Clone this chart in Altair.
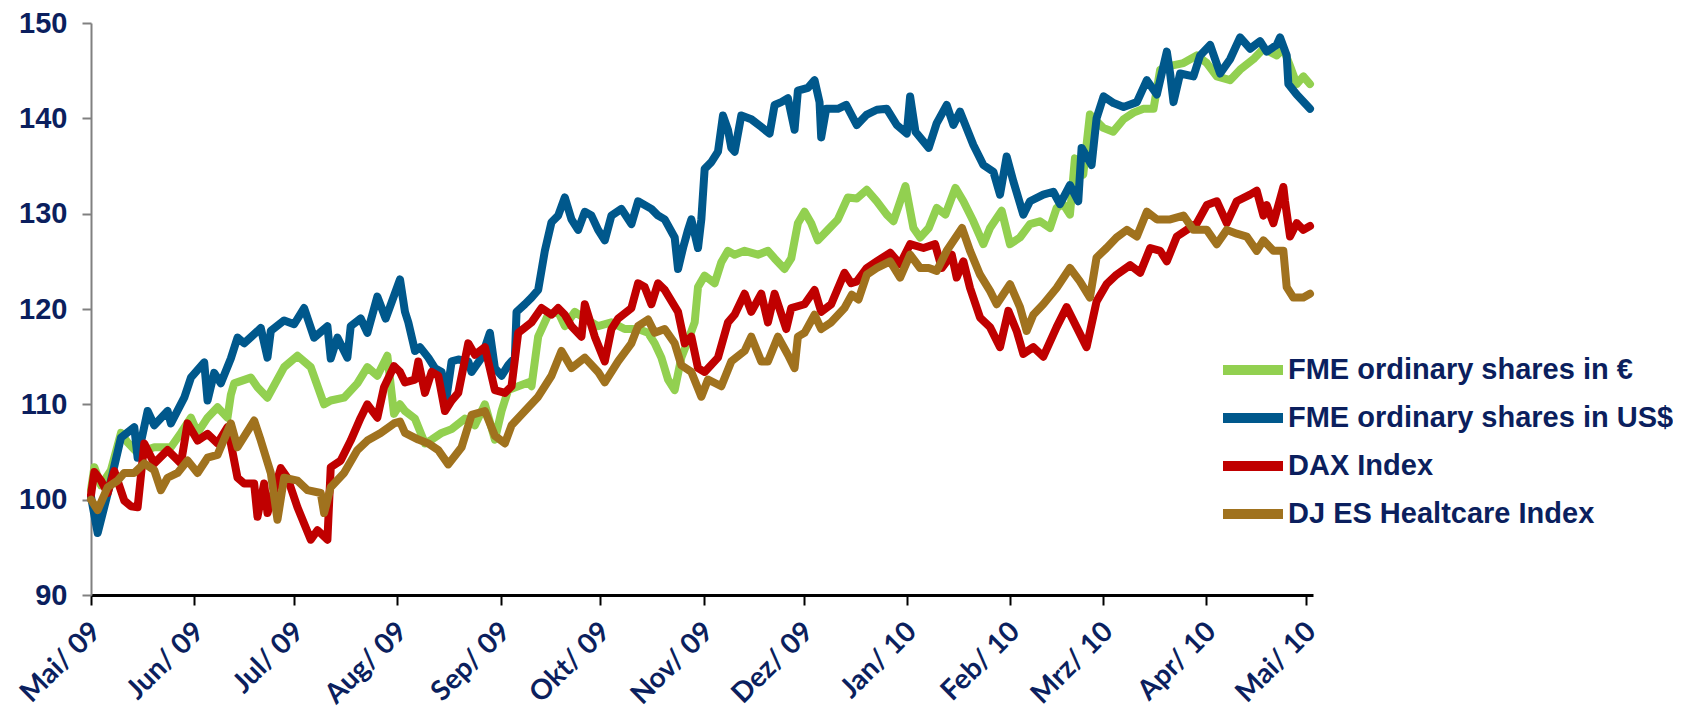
import altair as alt
import pandas as pd

month_names = ["Jan", "Feb", "Mrz", "Apr", "Mai", "Jun", "Jul", "Aug", "Sep", "Okt", "Nov", "Dez"]
series_names = ["FME ordinary shares in €", "FME ordinary shares in US$", "DAX Index", "DJ ES Healtcare Index"]
series_colors = ["#92d050", "#00588c", "#c00000", "#a0721e"]
tick_months = [(2009, 5), (2009, 6), (2009, 7), (2009, 8), (2009, 9), (2009, 10), (2009, 11),
               (2009, 12), (2010, 1), (2010, 2), (2010, 3), (2010, 4), (2010, 5)]
y_ticks = [90, 100, 110, 120, 130, 140, 150]

# (days since 1 May 2009, index value)
eur_points = [(0,101),(1,103.4),(3,101.5),(6,103.1),(9,107),(11,106),(14,104.9),(19,105.5),(24,105.5),(27,107),
(30,108.6),(32,107),(35,108.6),(38,109.7),(41,108.6),(42,111),(43,112.2),(48,112.8),(50,111.8),(53,110.7),
(58,113.9),(62,115.1),(66,113.9),(70,110),(72,110.4),(76,110.7),(80,112.2),(83,113.9),(86,113),(89,115.1),
(91,109),(92.8,110),(94.3,109.3),(97.3,108.5),(100.3,105.9),(102.3,106.3),(105.3,107),(108.3,107.4),(112.3,108.5),
(115.3,107.8),(118.3,110),(121.3,106.3),(123.3,109.3),(125.3,111.5),(128.3,111.9),(131.3,112.3),(132.3,111.9),
(134.3,117.1),(137.3,119.4),(140.3,119.7),(142.3,118.2),(145.3,119.7),(148.3,119),(152.3,118.2),(156.3,118.6),
(160.3,117.9),(164.3,117.9),(167.3,117.5),(169.3,116.4),(171.3,114.9),(173.3,112.6),(175.3,111.5),(177.3,114.9),
(179.3,116.7),(181.3,118.6),(182.3,122.3),(184.3,123.5),(187.3,122.7),(189.3,124.9),(191.3,126.1),(193.3,125.7),
(196.3,126.1),(200.3,125.7),(203.3,126.1),(205.3,125.3),(208.3,124.2),(210.3,125.3),(212.3,129),(214.3,130.2),
(216.3,129),(218.3,127.2),(221.3,128.3),(224.3,129.4),(227.3,131.7),(230,131.6),(233,132.5),(236,131.3),
(239,129.9),(241,129.2),(244.6,132.9),(247,128.5),(249,127.5),(251.6,128.5),(254,130.6),(256.6,129.9),(259.6,132.7),
(262,131.3),(265,129.2),(268,126.8),(270,128.5),(273.5,130.3),(276,126.8),(279,127.5),(282,128.9),(285,129.2),
(288,128.5),(290,130.6),(292,131),(294,129.9),(295.5,135.8),(298,134.1),(300,140.4),(304,139),(307,138.6),
(310.1,139.9),(313.1,140.6),(316.1,141),(319.1,141),(321.1,145.1),(324.1,145.5),(328.1,145.8),(332.1,146.6),
(335.1,145.8),(338.1,144.4),(342.1,144),(345.1,145.1),(349.1,146.2),(352.1,147.3),(356.1,146.6),(358.1,147.3),
(360.1,145.5),(362.1,143.6),(364.1,144.4),(366.1,143.6)]

usd_points = [(0,100.3),(2,96.5),(6,102),(9,106.5),(13,107.6),(14,104.4),(17,109.3),(19,107.8),(23,109.3),(24,108),
(28,110.7),(30,112.8),(34,114.4),(35,110.4),(37,113.3),(39,112.2),(42,114.8),(44,117),(46,116.4),(51,118),
(53,114.9),(54,117.7),(58,118.8),(61,118.4),(64,120.1),(67,117),(71,118.2),(72,114.8),(74,117),(77,114.9),
(78,118.2),(81,119),(83,117.5),(86,121.3),(88.5,119),(92.8,123.1),(94.3,119.7),(95.3,118.6),(97.3,115.6),
(98.8,116),(101.3,114.9),(103.3,113.8),(105.3,113.4),(106.8,110.8),(108.3,114.5),(110.3,114.7),(113.3,114.5),
(114.3,113.4),(117.3,114.9),(119.8,117.5),(121.3,113.8),(123.3,113),(125.3,114.1),(127.3,114.9),(127.8,119.7),
(130.3,120.5),(132.3,121.2),(134.3,122),(136.3,126.1),(138.3,129.1),(140.3,129.8),(142.3,131.7),(144.3,129.4),
(146.3,128.3),(148.3,130.2),(150.3,129.8),(152.3,128.3),(154.3,127.2),(156.3,129.8),(159.3,130.5),(162.3,128.9),
(164.3,131.3),(168.3,130.5),(170.3,129.8),(172.3,129.4),(175.3,127.5),(176.3,124.2),(177.8,126.4),(179.3,128.3),
(180.3,129.4),(182.3,126.4),(183.3,129.4),(184.3,134.7),(186.3,135.4),(188.3,136.5),(189.8,140.3),(191.3,138.8),
(192.3,136.9),(193.3,136.5),(195.3,140.3),(198.3,139.9),(201.3,139.1),(203.8,138.4),(205.3,141.4),(207.3,141.7),
(209.3,142.1),(211.3,138.8),(212.3,142.9),(215.3,143.2),(217.3,144),(218.8,141.7),(219.3,138),(220.8,141),
(224.3,141),(226.8,141.4),(230,139.3),(233,140.4),(236,140.9),(239,141),(242,139.3),(245,138.4),(246,142.3),
(247.6,138.6),(251.6,136.9),(254,139.5),(257,141.4),(259,139.3),(261,140.7),(265,137.2),(268,135.1),(271,134.4),
(273,132),(275,136),(277,133.4),(280,129.9),(282,131.3),(286,132),(289,132.3),(291,131),(294,133),(296.5,131.3),
(297.5,136.9),(300.5,135.1),(302,140),(304.1,142.3),(307.1,141.6),(310.1,141.2),(314.1,141.7),(317.1,144),
(320.1,142.5),(323.1,147),(324.1,144.7),(325.1,141.7),(327.1,144.7),(331.1,144.4),(333.1,146.6),(336.1,147.7),
(339.1,144.7),(342.1,146.2),(345.1,148.5),(348.1,147.3),(351.1,148.1),(353.1,147),(356.1,147.7),(357.1,148.5),
(359.1,146.6),(359.6,143.6),(362.1,142.5),(366.1,141)]

dax_points = [(0,100.5),(1,102.9),(3,102),(5,100.7),(7,103),(10,99.9),(12,99.3),(14,99.2),(16,105.9),(19,103.8),
(23,105.2),(27,103.8),(29,108),(32,106.2),(35,106.9),(38,105.9),(41,107.6),(42,105.9),(44,102.3),(46,101.7),
(49,101.7),(50,98.2),(52,101.7),(53,98.6),(57,103.3),(59,102.3),(62,99.2),(66,95.8),(68,96.8),(71,95.8),
(72,103.4),(75,104.1),(78,106.2),(81,108.6),(83,110),(86,108.6),(88,111.8),(91,114),(92.8,113.4),(94.3,112.3),
(97.3,112.6),(98.3,114.5),(100.3,111.2),(102.3,113.4),(104.3,113),(106.3,109.3),(108.3,110.4),(110.3,111.2),
(113.3,116.4),(115.3,115.2),(118.3,116),(121.3,111.5),(124.3,111.2),(126.3,111.9),(128.3,117.5),(132.3,118.6),
(135.3,120.1),(138.3,119.4),(140.3,120.1),(142.3,119.4),(144.3,118.2),(147.3,117.1),(148.3,120.5),(151.3,117.1),
(154.3,114.5),(156.3,117.9),(158.3,119),(162.3,120.1),(164.3,122.7),(166.3,122.3),(168.3,120.5),(170.3,122.7),
(172.3,122),(176.3,119.7),(178.3,116.4),(180.3,117.1),(182.3,113.8),(184.3,113.4),(188.3,114.9),(191.3,118.6),
(193.3,119.4),(196.3,121.6),(198.3,119.7),(201.3,121.6),(203.3,118.6),(205.3,121.6),(208.8,117.9),(210.3,120.1),
(214.3,120.5),(217.3,122),(219.3,119.7),(222.3,120.5),(226.3,123.8),(228.3,122.7),(230,122.9),(233,124.3),
(236,125),(240,125.9),(243,124.7),(246,126.8),(250,126.4),(253.5,126.8),(255.5,124.3),(258.5,125.7),(260,123.3),
(262,125),(264,122.2),(267,119.1),(270,118.1),(273,116),(275.5,119.8),(278,117.7),(280,115.3),(283,116),
(286,115),(290,118.1),(293,120.2),(296,118.1),(299,116),(302,120.8),(305,122.6),(308,123.6),(312.1,124.6),
(315.1,123.8),(318.1,126.4),(321.1,126.1),(323.1,125),(326.1,127.6),(329.1,128.3),(332.1,129),(335.1,130.9),
(338.1,131.3),(341.1,129),(344.1,131.3),(348.1,132),(350.1,132.4),(352.1,129.8),(353.1,130.9),(355.1,129),
(358.1,132.8),(358.6,131.3),(360.1,127.6),(362.1,129),(364.1,128.3),(366.1,128.7)]

dj_points = [(0,100),(2,98.9),(5,101.3),(8,102),(10,102.8),(13,102.8),(16,103.8),(19,103.1),(21,101),(23,102.3),
(26,102.8),(29,104.1),(32,102.8),(35,104.4),(38,104.7),(42,108),(44,105.5),(49,108.3),(51,106.2),(54,102.8),
(56,97.9),(58,102.3),(62,102),(65,101),(69,100.7),(70,98.6),(72,101.3),(76,102.8),(80,105.2),(83,106.2),
(87,107),(91,108),(92.8,108.2),(94.3,107),(98.3,106.3),(101.3,105.9),(104.3,105.2),(107.3,103.7),(111.3,105.5),
(114.3,108.9),(118.3,109.3),(121.3,106.7),(124.3,105.9),(126.3,107.8),(130.3,109.3),(134.3,110.8),(138.3,113),
(141.3,115.6),(144.3,113.8),(148.3,114.9),(152.3,113.4),(154.3,112.3),(158.3,114.5),(162.3,116.4),(164.3,118.2),
(167.3,118.9),(169.3,117.5),(172.3,117.9),(175.3,116.4),(177.3,114.1),(180.3,113.4),(183.3,110.8),(185.3,112.6),
(189.3,111.9),(192.3,114.5),(196.3,115.6),(198.3,117.1),(201.3,114.5),(203.3,114.5),(206.3,117.1),(209.3,115.2),
(211.3,113.8),(212.3,117.1),(214.3,117.5),(217.3,119.4),(219.3,117.9),(222.3,118.6),(226.3,120.1),(228.5,121.5),
(230.5,121),(233,123.6),(236,124.3),(240,125),(243,123.3),(246,125.7),(249,124.3),(251.6,124.3),(254,124),
(257,126.1),(261.6,128.5),(264,126.1),(267,123.6),(270,121.9),(272,120.5),(276,122.6),(279,120.2),(281,117.7),
(283,119.4),(286,120.5),(290,122.2),(294,124.3),(297,122.9),(300,121.2),(302,125.4),(305,126.4),(308,127.5),
(311.1,128.3),(314.1,127.6),(317.1,130.2),(320.1,129.4),(324.1,129.4),(328.1,129.8),(331.1,128.3),(335.1,128.3),
(338.1,126.8),(341.1,128.3),(344.1,127.9),(347.1,127.6),(350.1,126.1),(352.1,127.2),(355.1,126.1),(358.1,126.1),
(359.1,122.3),(361.1,121.2),(364.1,121.2),(366.1,121.6)]

all_points = [eur_points, usd_points, dax_points, dj_points]
frames = []
for name, pts in zip(series_names, all_points):
    f = pd.DataFrame(pts, columns=["day", "value"])
    f["series"] = name
    frames.append(f)
df = pd.concat(frames, ignore_index=True)
df["date"] = (pd.Timestamp("2009-05-01") + pd.to_timedelta(df["day"], unit="D")).dt.strftime("%Y-%m-%dT%H:%M:%S")

navy = "#0b1f5e"
tick_values = [alt.DateTime(year=y, month=m, date=1) for (y, m) in tick_months]
month_js = "[" + ",".join("'" + m + "'" for m in month_names) + "]"
label_expr = month_js + "[month(datum.value)] + '/ ' + timeFormat(datum.value, '%y')"

chart = alt.Chart(df).mark_line(strokeWidth=8, strokeJoin="round", strokeCap="round").encode(
    x=alt.X("date:T",
            scale=alt.Scale(domain=[alt.DateTime(year=2009, month=5, date=1),
                                    alt.DateTime(year=2010, month=5, date=3)]),
            axis=alt.Axis(values=tick_values, labelExpr=label_expr, title=None, grid=False,
                          labelAngle=315, labelAlign="right", labelBaseline="middle",
                          labelFont="Lato", labelFontWeight="bold", labelFontSize=28,
                          labelColor=navy, labelPadding=22, labelOffset=5, labelOverlap=False,
                          labelBound=False, labelFlush=False,
                          domainColor="#000000", domainWidth=3,
                          tickColor="#000000", tickWidth=2, tickSize=10)),
    y=alt.Y("value:Q",
            scale=alt.Scale(domain=[90, 150], nice=False, zero=False),
            axis=alt.Axis(values=y_ticks, title=None, grid=False,
                          labelFont="Liberation Sans", labelFontWeight="bold", labelFontSize=29,
                          labelColor=navy, labelPadding=15,
                          domainColor="#808080", domainWidth=2,
                          tickColor="#808080", tickWidth=2, tickSize=9)),
    color=alt.Color("series:N",
                    scale=alt.Scale(domain=series_names, range=series_colors),
                    legend=alt.Legend(title=None, orient="none", legendX=1127, legendY=323,
                                      symbolType="stroke", symbolSize=3600, symbolStrokeWidth=10,
                                      labelFont="Liberation Sans", labelFontWeight="bold",
                                      labelFontSize=29, labelColor=navy, labelOffset=0,
                                      clipHeight=48, rowPadding=0, labelLimit=600)),
).properties(
    width=1222, height=572,
    autosize=alt.AutoSizeParams(type="none"),
    padding={"left": 83, "top": 15, "right": 360, "bottom": 114},
).configure_view(stroke=None)

chart.save("out.html", embed_options={"renderer": "svg", "actions": False})
